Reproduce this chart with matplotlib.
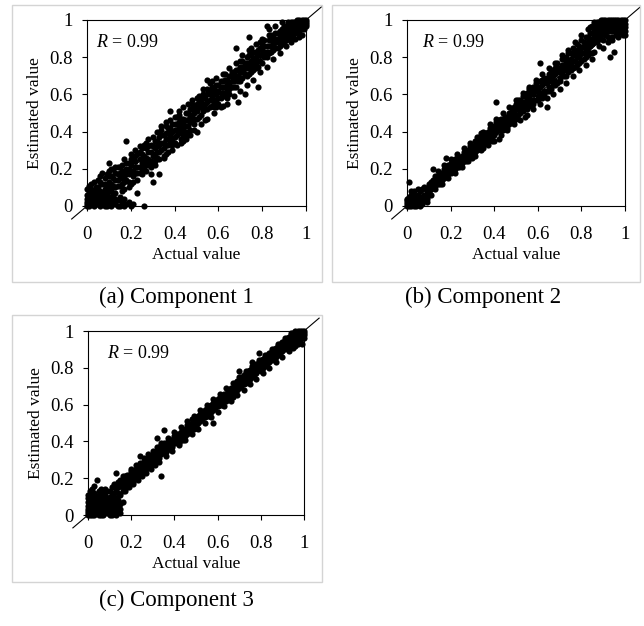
import matplotlib
matplotlib.use("Agg")
import matplotlib.pyplot as plt
from matplotlib.patches import Rectangle

plt.rcParams['font.family'] = ['Liberation Serif', 'DejaVu Serif']
plt.rcParams['mathtext.fontset'] = 'custom'
plt.rcParams['mathtext.it'] = 'Liberation Serif:italic'
plt.rcParams['mathtext.rm'] = 'Liberation Serif'

# ====== Data (actual, estimated) ======

comp1_points = [
    (0.00, 0.00), (0.01, 0.02), (0.02, 0.01), (0.00, 0.04), (0.01, 0.06), (0.02, 0.07), (0.03, 0.05), (0.04, 0.03),
    (0.05, 0.01), (0.03, 0.00), (0.06, 0.04), (0.07, 0.02), (0.05, 0.06), (0.08, 0.05), (0.01, 0.08), (0.02, 0.04),
    (0.04, 0.07), (0.06, 0.00), (0.08, 0.01), (0.09, 0.03), (0.00, 0.06), (0.01, 0.03), (0.03, 0.02), (0.02, 0.09),
    (0.04, 0.05), (0.07, 0.07), (0.10, 0.02), (0.11, 0.00), (0.12, 0.04), (0.13, 0.01), (0.15, 0.00), (0.16, 0.02),
    (0.18, 0.01), (0.20, 0.00), (0.21, 0.01), (0.02, 0.12), (0.00, 0.02), (0.05, 0.03), (0.09, 0.00), (0.14, 0.03),
    (0.05, 0.10), (0.06, 0.08), (0.07, 0.12), (0.08, 0.09), (0.08, 0.15), (0.09, 0.07), (0.10, 0.13), (0.10, 0.19),
    (0.11, 0.09), (0.11, 0.16), (0.12, 0.11), (0.12, 0.20), (0.13, 0.14), (0.13, 0.07), (0.14, 0.17), (0.14, 0.11),
    (0.15, 0.15), (0.15, 0.21), (0.16, 0.12), (0.16, 0.19), (0.17, 0.16), (0.17, 0.09), (0.18, 0.20), (0.18, 0.35),
    (0.18, 0.14), (0.19, 0.23), (0.19, 0.17), (0.20, 0.19), (0.20, 0.12), (0.21, 0.24), (0.21, 0.16), (0.22, 0.21),
    (0.22, 0.27), (0.23, 0.18), (0.23, 0.07), (0.24, 0.25), (0.24, 0.21), (0.25, 0.28), (0.25, 0.20), (0.26, 0.00),
    (0.26, 0.24), (0.27, 0.31), (0.27, 0.26), (0.28, 0.22), (0.28, 0.29), (0.29, 0.17), (0.29, 0.33), (0.30, 0.27),
    (0.30, 0.13), (0.09, 0.04), (0.06, 0.13), (0.07, 0.18), (0.10, 0.23),
    (0.31, 0.31), (0.31, 0.24), (0.32, 0.35), (0.32, 0.29), (0.33, 0.17), (0.33, 0.33), (0.34, 0.38), (0.34, 0.30),
    (0.35, 0.34), (0.35, 0.27), (0.36, 0.39), (0.36, 0.33), (0.37, 0.42), (0.37, 0.36), (0.38, 0.35), (0.38, 0.51),
    (0.39, 0.40), (0.39, 0.33), (0.40, 0.44), (0.40, 0.37), (0.41, 0.41), (0.41, 0.48), (0.42, 0.39), (0.42, 0.45),
    (0.43, 0.36), (0.43, 0.43), (0.44, 0.47), (0.44, 0.41), (0.45, 0.50), (0.45, 0.43), (0.46, 0.46), (0.46, 0.38),
    (0.47, 0.52), (0.47, 0.45), (0.48, 0.49), (0.48, 0.55), (0.49, 0.47), (0.49, 0.53), (0.50, 0.40), (0.50, 0.51),
    (0.51, 0.56), (0.51, 0.48), (0.52, 0.53), (0.52, 0.58), (0.53, 0.51), (0.54, 0.55), (0.54, 0.46), (0.55, 0.60),
    (0.55, 0.52), (0.55, 0.68), (0.56, 0.57), (0.56, 0.62), (0.57, 0.54), (0.57, 0.59), (0.58, 0.63), (0.58, 0.56),
    (0.59, 0.60), (0.59, 0.53), (0.60, 0.65), (0.60, 0.58), (0.61, 0.61), (0.61, 0.67), (0.62, 0.59), (0.62, 0.64),
    (0.63, 0.68), (0.63, 0.61), (0.64, 0.65), (0.64, 0.58), (0.65, 0.70), (0.65, 0.63), (0.66, 0.67), (0.66, 0.72),
    (0.67, 0.64), (0.67, 0.69), (0.68, 0.73), (0.68, 0.85), (0.69, 0.56), (0.69, 0.70), (0.70, 0.75), (0.70, 0.67),
    (0.71, 0.72), (0.71, 0.78), (0.72, 0.60), (0.72, 0.74), (0.73, 0.77), (0.73, 0.70), (0.74, 0.81), (0.74, 0.91),
    (0.74, 0.74), (0.75, 0.78), (0.75, 0.72), (0.76, 0.83), (0.76, 0.76), (0.77, 0.80), (0.77, 0.74), (0.78, 0.64),
    (0.78, 0.84), (0.78, 0.78), (0.79, 0.81), (0.79, 0.88), (0.80, 0.77), (0.80, 0.84), (0.81, 0.86), (0.81, 0.80),
    (0.82, 0.97), (0.82, 0.83), (0.83, 0.89), (0.83, 0.82), (0.84, 0.86), (0.84, 0.92), (0.85, 0.84), (0.85, 0.88),
    (0.86, 0.90), (0.86, 0.85), (0.87, 0.93), (0.87, 0.88), (0.88, 0.91), (0.88, 0.86), (0.89, 0.95), (0.89, 0.90),
    (0.90, 0.93), (0.90, 0.88), (0.91, 0.97), (0.91, 0.92), (0.92, 0.95), (0.92, 0.90), (0.93, 0.99), (0.93, 0.94),
    (0.94, 0.97), (0.94, 0.92), (0.95, 0.99), (0.95, 0.95), (0.96, 0.98), (0.96, 0.94), (0.97, 1.00), (0.97, 0.96),
    (0.98, 0.98), (0.98, 0.95), (0.99, 0.99), (0.99, 0.97), (1.00, 0.98), (1.00, 1.00), (0.97, 0.91), (0.90, 0.97),
    (0.92, 0.99), (0.97, 0.93), (0.99, 1.00),
]

comp1_extra = [
    (0.00, 0.01), (0.01, 0.00), (0.02, 0.05), (0.03, 0.08), (0.04, 0.10), (0.05, 0.08), (0.06, 0.06), (0.07, 0.04),
    (0.08, 0.03), (0.09, 0.06), (0.10, 0.05), (0.11, 0.03), (0.12, 0.02), (0.13, 0.04), (0.14, 0.00), (0.17, 0.00),
    (0.19, 0.02), (0.00, 0.09), (0.01, 0.11), (0.03, 0.13), (0.04, 0.01), (0.06, 0.02), (0.10, 0.08), (0.12, 0.07),
    (0.15, 0.05), (0.17, 0.04),
    (0.06, 0.16), (0.08, 0.12), (0.09, 0.17), (0.09, 0.11), (0.10, 0.16), (0.11, 0.20), (0.11, 0.12), (0.12, 0.15),
    (0.13, 0.18), (0.13, 0.10), (0.14, 0.21), (0.14, 0.14), (0.15, 0.18), (0.15, 0.11), (0.16, 0.22), (0.16, 0.15),
    (0.17, 0.19), (0.17, 0.13), (0.18, 0.23), (0.18, 0.17), (0.19, 0.20), (0.19, 0.13), (0.20, 0.25), (0.20, 0.22),
    (0.21, 0.19), (0.21, 0.27), (0.22, 0.18), (0.22, 0.24), (0.23, 0.28), (0.23, 0.21), (0.24, 0.18), (0.24, 0.29),
    (0.25, 0.23), (0.25, 0.31), (0.26, 0.27), (0.26, 0.21), (0.27, 0.23), (0.27, 0.34), (0.28, 0.25), (0.28, 0.32),
    (0.29, 0.29), (0.29, 0.24), (0.30, 0.32), (0.30, 0.23),
    (0.31, 0.35), (0.31, 0.28), (0.32, 0.32), (0.32, 0.26), (0.33, 0.37), (0.33, 0.29), (0.34, 0.34), (0.34, 0.41),
    (0.35, 0.31), (0.35, 0.38), (0.36, 0.36), (0.36, 0.43), (0.37, 0.33), (0.37, 0.39), (0.38, 0.42), (0.38, 0.38),
    (0.39, 0.36), (0.39, 0.44), (0.40, 0.41), (0.40, 0.34), (0.41, 0.38), (0.41, 0.44), (0.42, 0.42), (0.42, 0.49),
    (0.43, 0.40), (0.43, 0.47), (0.44, 0.44), (0.44, 0.38), (0.45, 0.46), (0.45, 0.40), (0.46, 0.50), (0.46, 0.43),
    (0.47, 0.48), (0.47, 0.41), (0.48, 0.45), (0.48, 0.52), (0.49, 0.50), (0.49, 0.44), (0.50, 0.55), (0.50, 0.47),
    (0.51, 0.53), (0.51, 0.59), (0.52, 0.49), (0.52, 0.56), (0.53, 0.55), (0.53, 0.60), (0.54, 0.52), (0.54, 0.58),
    (0.55, 0.56), (0.55, 0.63), (0.56, 0.53), (0.56, 0.60), (0.57, 0.57), (0.57, 0.64), (0.58, 0.60), (0.58, 0.53),
    (0.59, 0.57), (0.59, 0.65), (0.60, 0.62), (0.60, 0.55), (0.61, 0.64), (0.61, 0.58), (0.62, 0.67), (0.62, 0.61),
    (0.63, 0.64), (0.63, 0.71), (0.64, 0.62), (0.64, 0.68), (0.65, 0.66), (0.65, 0.60), (0.66, 0.70), (0.66, 0.64),
    (0.67, 0.72), (0.67, 0.67), (0.68, 0.70), (0.68, 0.64), (0.69, 0.73), (0.69, 0.67), (0.70, 0.72), (0.70, 0.78),
    (0.71, 0.75), (0.71, 0.69), (0.72, 0.77), (0.72, 0.71), (0.73, 0.80), (0.73, 0.74), (0.74, 0.77), (0.74, 0.71),
    (0.75, 0.81), (0.75, 0.75), (0.76, 0.79), (0.76, 0.73), (0.77, 0.83), (0.77, 0.77), (0.78, 0.81), (0.78, 0.75),
    (0.79, 0.85), (0.79, 0.78), (0.80, 0.81), (0.80, 0.87), (0.81, 0.83), (0.81, 0.89), (0.82, 0.86), (0.82, 0.80),
    (0.83, 0.86), (0.83, 0.92), (0.84, 0.89), (0.84, 0.83), (0.85, 0.91), (0.85, 0.86),
    (0.86, 0.88), (0.86, 0.93), (0.87, 0.90), (0.87, 0.85), (0.88, 0.94), (0.88, 0.89), (0.89, 0.92), (0.89, 0.87),
    (0.90, 0.95), (0.90, 0.91), (0.91, 0.94), (0.91, 0.89), (0.92, 0.97), (0.92, 0.93), (0.93, 0.96), (0.93, 0.91),
    (0.94, 0.99), (0.94, 0.95), (0.95, 0.97), (0.95, 0.93), (0.96, 1.00), (0.96, 0.96), (0.97, 0.98), (0.98, 1.00),
    (0.98, 0.97), (0.99, 0.98), (0.99, 0.95), (1.00, 0.99), (1.00, 0.97), (0.96, 0.99),
]

comp1_spread = [
    (0.05, 0.14), (0.08, 0.00), (0.10, 0.01), (0.12, 0.06), (0.13, 0.21), (0.16, 0.08), (0.17, 0.25), (0.19, 0.10),
    (0.20, 0.28), (0.21, 0.13), (0.22, 0.30), (0.23, 0.14), (0.24, 0.32), (0.25, 0.17), (0.26, 0.33), (0.27, 0.19),
    (0.28, 0.36), (0.29, 0.21), (0.30, 0.37), (0.31, 0.22), (0.32, 0.40), (0.33, 0.25), (0.34, 0.43), (0.35, 0.26),
    (0.36, 0.45), (0.37, 0.29), (0.38, 0.46), (0.39, 0.30), (0.40, 0.48), (0.41, 0.33), (0.42, 0.51), (0.43, 0.34),
    (0.44, 0.53), (0.45, 0.36), (0.46, 0.55), (0.47, 0.38), (0.48, 0.57), (0.49, 0.41), (0.50, 0.58), (0.52, 0.44),
    (0.53, 0.63), (0.55, 0.47), (0.56, 0.66), (0.58, 0.50), (0.59, 0.69), (0.61, 0.53), (0.62, 0.71), (0.64, 0.55),
    (0.65, 0.74), (0.67, 0.59), (0.68, 0.77), (0.70, 0.62), (0.71, 0.81), (0.73, 0.65), (0.74, 0.84), (0.76, 0.68),
    (0.77, 0.87), (0.79, 0.72), (0.80, 0.90), (0.82, 0.75), (0.83, 0.95), (0.85, 0.79), (0.86, 0.97), (0.88, 0.82),
    (0.89, 0.99), (0.91, 0.86), (0.93, 0.88), (0.95, 0.90), (0.98, 0.92), (0.57, 0.67), (0.44, 0.35), (0.36, 0.28),
    (0.62, 0.54), (0.75, 0.85),
]

comp2_points = [
    (0.00, 0.00), (0.01, 0.01), (0.02, 0.00), (0.01, 0.03), (0.02, 0.02), (0.03, 0.01), (0.03, 0.03), (0.04, 0.02),
    (0.04, 0.00), (0.05, 0.03), (0.05, 0.01), (0.06, 0.04), (0.06, 0.02), (0.07, 0.03), (0.07, 0.05), (0.08, 0.04),
    (0.08, 0.06), (0.00, 0.02), (0.01, 0.05), (0.02, 0.04), (0.03, 0.06), (0.04, 0.05), (0.05, 0.06), (0.06, 0.00),
    (0.07, 0.01), (0.09, 0.05), (0.01, 0.13), (0.03, 0.08), (0.00, 0.04), (0.05, 0.09), (0.10, 0.07), (0.09, 0.08),
    (0.10, 0.10), (0.10, 0.12), (0.11, 0.09), (0.11, 0.13), (0.12, 0.11), (0.12, 0.14), (0.12, 0.20), (0.13, 0.12),
    (0.13, 0.16), (0.14, 0.13), (0.14, 0.15), (0.15, 0.14), (0.15, 0.18), (0.16, 0.15), (0.16, 0.17), (0.17, 0.16),
    (0.17, 0.20), (0.18, 0.17), (0.18, 0.26), (0.19, 0.18), (0.19, 0.21), (0.20, 0.19), (0.20, 0.23), (0.21, 0.20),
    (0.21, 0.22), (0.22, 0.21), (0.22, 0.25), (0.23, 0.22), (0.23, 0.26), (0.24, 0.23), (0.24, 0.21), (0.25, 0.27),
    (0.25, 0.24), (0.26, 0.25), (0.26, 0.29), (0.27, 0.26), (0.27, 0.24), (0.28, 0.30), (0.28, 0.27), (0.29, 0.28),
    (0.29, 0.32), (0.30, 0.29), (0.30, 0.26), (0.15, 0.12), (0.08, 0.10),
    (0.31, 0.33), (0.31, 0.29), (0.32, 0.31), (0.32, 0.35), (0.33, 0.32), (0.33, 0.37), (0.34, 0.33), (0.34, 0.39),
    (0.35, 0.34), (0.35, 0.31), (0.36, 0.37), (0.36, 0.35), (0.37, 0.36), (0.37, 0.40), (0.38, 0.37), (0.38, 0.42),
    (0.39, 0.38), (0.39, 0.35), (0.40, 0.41), (0.40, 0.39), (0.41, 0.56), (0.41, 0.43), (0.42, 0.36), (0.42, 0.44),
    (0.43, 0.41), (0.43, 0.47), (0.44, 0.43), (0.44, 0.45), (0.45, 0.44), (0.45, 0.48), (0.46, 0.45), (0.46, 0.42),
    (0.47, 0.49), (0.47, 0.46), (0.48, 0.47), (0.48, 0.51), (0.49, 0.48), (0.49, 0.53), (0.50, 0.49), (0.50, 0.55),
    (0.51, 0.52), (0.51, 0.57), (0.52, 0.50), (0.52, 0.55), (0.53, 0.59), (0.53, 0.53), (0.54, 0.48), (0.54, 0.56),
    (0.55, 0.61), (0.55, 0.54), (0.56, 0.58), (0.56, 0.63), (0.57, 0.56), (0.57, 0.60), (0.58, 0.64), (0.58, 0.57),
    (0.59, 0.62), (0.59, 0.66), (0.60, 0.59), (0.60, 0.64), (0.61, 0.77), (0.61, 0.67), (0.62, 0.61), (0.62, 0.65),
    (0.63, 0.69), (0.63, 0.62), (0.64, 0.53), (0.64, 0.66), (0.65, 0.71), (0.65, 0.64), (0.66, 0.68), (0.66, 0.73),
    (0.67, 0.65), (0.67, 0.70), (0.68, 0.74), (0.68, 0.67), (0.69, 0.72), (0.69, 0.77), (0.70, 0.69), (0.70, 0.74),
    (0.71, 0.76), (0.71, 0.71), (0.72, 0.79), (0.72, 0.73), (0.73, 0.77), (0.73, 0.70), (0.74, 0.82), (0.74, 0.75),
    (0.75, 0.79), (0.75, 0.73), (0.76, 0.85), (0.76, 0.78), (0.77, 0.81), (0.77, 0.75), (0.78, 0.87), (0.78, 0.80),
    (0.79, 0.84), (0.79, 0.77), (0.80, 0.89), (0.80, 0.82), (0.81, 0.86), (0.81, 0.79), (0.82, 0.91), (0.82, 0.84),
    (0.83, 0.88), (0.83, 0.81), (0.84, 0.93), (0.84, 0.86), (0.85, 0.90), (0.85, 0.79), (0.86, 0.83), (0.87, 0.88),
    (0.86, 0.95), (0.86, 0.91), (0.87, 0.97), (0.87, 0.93), (0.88, 0.99), (0.88, 0.95), (0.88, 0.90), (0.89, 1.00),
    (0.89, 0.96), (0.89, 0.92), (0.90, 0.98), (0.90, 0.94), (0.90, 0.89), (0.91, 1.00), (0.91, 0.96), (0.91, 0.92),
    (0.92, 0.98), (0.92, 0.94), (0.93, 1.00), (0.93, 0.96), (0.93, 0.80), (0.94, 0.98), (0.94, 0.94), (0.95, 1.00),
    (0.95, 0.96), (0.95, 0.83), (0.96, 0.98), (0.96, 0.94), (0.97, 1.00), (0.97, 0.96), (0.98, 0.98), (0.98, 0.94),
    (0.99, 1.00), (0.99, 0.96), (1.00, 0.98), (1.00, 0.94), (1.00, 1.00), (0.99, 0.92), (0.97, 0.93), (0.92, 0.91),
]

comp2_extra = [
    (0.00, 0.01), (0.01, 0.00), (0.01, 0.02), (0.02, 0.01), (0.02, 0.03), (0.03, 0.00), (0.03, 0.02), (0.04, 0.01),
    (0.04, 0.03), (0.04, 0.04), (0.05, 0.02), (0.05, 0.04), (0.06, 0.01), (0.06, 0.03), (0.06, 0.05), (0.07, 0.02),
    (0.07, 0.04), (0.08, 0.03), (0.08, 0.05), (0.09, 0.04), (0.09, 0.06), (0.02, 0.06), (0.00, 0.03), (0.03, 0.04),
    (0.10, 0.08), (0.10, 0.11), (0.11, 0.10), (0.11, 0.12), (0.12, 0.10), (0.12, 0.13), (0.13, 0.11), (0.13, 0.14),
    (0.14, 0.12), (0.14, 0.16), (0.15, 0.13), (0.15, 0.16), (0.16, 0.14), (0.16, 0.18), (0.17, 0.15), (0.17, 0.18),
    (0.18, 0.16), (0.18, 0.20), (0.19, 0.17), (0.19, 0.22), (0.20, 0.18), (0.20, 0.21), (0.21, 0.19), (0.21, 0.24),
    (0.22, 0.20), (0.22, 0.23), (0.23, 0.21), (0.23, 0.24), (0.24, 0.22), (0.24, 0.26), (0.25, 0.23), (0.25, 0.26),
    (0.26, 0.24), (0.26, 0.27), (0.27, 0.25), (0.27, 0.29), (0.28, 0.26), (0.28, 0.28), (0.29, 0.27), (0.29, 0.30),
    (0.30, 0.28), (0.30, 0.31),
    (0.31, 0.30), (0.31, 0.35), (0.32, 0.30), (0.32, 0.33), (0.33, 0.31), (0.33, 0.35), (0.34, 0.32), (0.34, 0.36),
    (0.35, 0.33), (0.35, 0.37), (0.36, 0.34), (0.36, 0.39), (0.37, 0.35), (0.37, 0.38), (0.38, 0.36), (0.38, 0.40),
    (0.39, 0.37), (0.39, 0.41), (0.40, 0.38), (0.40, 0.43), (0.41, 0.40), (0.41, 0.45), (0.42, 0.41), (0.42, 0.46),
    (0.43, 0.42), (0.43, 0.45), (0.44, 0.41), (0.44, 0.47), (0.45, 0.42), (0.45, 0.46), (0.46, 0.44), (0.46, 0.48),
    (0.47, 0.44), (0.47, 0.50), (0.48, 0.45), (0.48, 0.49), (0.49, 0.46), (0.49, 0.51), (0.50, 0.47), (0.50, 0.52),
    (0.51, 0.49), (0.51, 0.54), (0.52, 0.53), (0.52, 0.57), (0.53, 0.51), (0.53, 0.56), (0.54, 0.53), (0.54, 0.59),
    (0.55, 0.52), (0.55, 0.57), (0.56, 0.55), (0.56, 0.60), (0.57, 0.54), (0.57, 0.62), (0.58, 0.55), (0.58, 0.60),
    (0.59, 0.57), (0.59, 0.63), (0.60, 0.57), (0.60, 0.62), (0.61, 0.59), (0.61, 0.64), (0.62, 0.58), (0.62, 0.68),
    (0.63, 0.60), (0.63, 0.66), (0.64, 0.62), (0.64, 0.69), (0.65, 0.62), (0.65, 0.68), (0.66, 0.63), (0.66, 0.70),
    (0.67, 0.67), (0.67, 0.72), (0.68, 0.65), (0.68, 0.71), (0.69, 0.66), (0.69, 0.74), (0.70, 0.67), (0.70, 0.72),
    (0.71, 0.73), (0.71, 0.79), (0.72, 0.70), (0.72, 0.76), (0.73, 0.74), (0.73, 0.80), (0.74, 0.72), (0.74, 0.78),
    (0.75, 0.76), (0.75, 0.82), (0.76, 0.74), (0.76, 0.81), (0.77, 0.78), (0.77, 0.84), (0.78, 0.76), (0.78, 0.83),
    (0.79, 0.80), (0.79, 0.86), (0.80, 0.78), (0.80, 0.85), (0.81, 0.82), (0.81, 0.88), (0.82, 0.80), (0.82, 0.87),
    (0.83, 0.85), (0.83, 0.91), (0.84, 0.82), (0.84, 0.89), (0.85, 0.87), (0.85, 0.93),
    (0.86, 0.88), (0.86, 0.97), (0.87, 0.91), (0.87, 0.99), (0.88, 0.92), (0.88, 0.97), (0.89, 0.94), (0.89, 0.98),
    (0.90, 0.96), (0.90, 1.00), (0.91, 0.94), (0.91, 0.98), (0.92, 0.96), (0.92, 1.00), (0.93, 0.94), (0.93, 0.98),
    (0.94, 0.96), (0.94, 1.00), (0.95, 0.94), (0.95, 0.98), (0.96, 0.96), (0.96, 1.00), (0.97, 0.94), (0.97, 0.98),
    (0.98, 0.96), (0.98, 1.00), (0.99, 0.94), (0.99, 0.98), (1.00, 0.96), (1.00, 0.92), (0.94, 0.91), (0.96, 0.92),
]

comp2_spread = [
    (0.02, 0.08), (0.06, 0.08), (0.07, 0.09), (0.09, 0.02), (0.11, 0.06), (0.13, 0.09), (0.14, 0.19), (0.16, 0.12),
    (0.17, 0.22), (0.19, 0.15), (0.20, 0.25), (0.22, 0.18), (0.23, 0.28), (0.25, 0.21), (0.26, 0.31), (0.28, 0.24),
    (0.29, 0.34), (0.31, 0.27), (0.32, 0.37), (0.34, 0.30), (0.35, 0.40), (0.37, 0.33), (0.38, 0.44), (0.40, 0.35),
    (0.41, 0.47), (0.43, 0.38), (0.44, 0.50), (0.46, 0.41), (0.47, 0.53), (0.49, 0.44), (0.50, 0.57), (0.52, 0.46),
    (0.53, 0.61), (0.55, 0.49), (0.56, 0.64), (0.58, 0.52), (0.59, 0.68), (0.61, 0.55), (0.62, 0.71), (0.64, 0.58),
    (0.65, 0.74), (0.67, 0.60), (0.68, 0.77), (0.70, 0.63), (0.71, 0.81), (0.73, 0.66), (0.74, 0.84), (0.76, 0.70),
    (0.77, 0.88), (0.79, 0.73), (0.80, 0.92), (0.82, 0.76), (0.83, 0.95), (0.85, 0.82), (0.86, 0.99), (0.88, 0.86),
    (0.90, 0.85), (0.92, 0.88), (0.94, 0.89), (0.97, 0.91), (0.85, 0.97), (0.84, 0.96),
]

comp3_points = [
    (0.00, 0.00), (0.01, 0.01), (0.02, 0.00), (0.00, 0.03), (0.01, 0.05), (0.02, 0.03), (0.03, 0.02), (0.03, 0.05),
    (0.04, 0.01), (0.04, 0.04), (0.05, 0.02), (0.05, 0.06), (0.06, 0.03), (0.06, 0.00), (0.07, 0.05), (0.07, 0.02),
    (0.08, 0.04), (0.08, 0.07), (0.09, 0.02), (0.09, 0.06), (0.10, 0.03), (0.10, 0.08), (0.11, 0.05), (0.11, 0.01),
    (0.12, 0.07), (0.12, 0.03), (0.13, 0.05), (0.14, 0.02), (0.15, 0.01), (0.00, 0.07), (0.01, 0.09), (0.02, 0.07),
    (0.03, 0.10), (0.04, 0.08), (0.05, 0.11), (0.06, 0.09), (0.07, 0.12), (0.01, 0.13), (0.03, 0.16), (0.04, 0.19),
    (0.06, 0.14), (0.08, 0.11), (0.09, 0.13), (0.02, 0.11), (0.13, 0.09), (0.00, 0.05), (0.05, 0.00), (0.10, 0.00),
    (0.10, 0.13), (0.11, 0.11), (0.11, 0.15), (0.12, 0.12), (0.12, 0.17), (0.13, 0.23), (0.13, 0.14), (0.14, 0.15),
    (0.14, 0.12), (0.15, 0.16), (0.15, 0.19), (0.16, 0.15), (0.16, 0.18), (0.17, 0.17), (0.17, 0.21), (0.18, 0.18),
    (0.18, 0.16), (0.19, 0.21), (0.19, 0.19), (0.20, 0.22), (0.20, 0.18), (0.21, 0.20), (0.21, 0.24), (0.22, 0.23),
    (0.22, 0.21), (0.23, 0.26), (0.23, 0.22), (0.24, 0.24), (0.24, 0.32), (0.25, 0.26), (0.25, 0.23), (0.26, 0.28),
    (0.26, 0.25), (0.27, 0.27), (0.27, 0.30), (0.28, 0.28), (0.28, 0.26), (0.29, 0.31), (0.29, 0.28), (0.30, 0.30),
    (0.30, 0.33),
    (0.31, 0.31), (0.31, 0.34), (0.32, 0.42), (0.32, 0.32), (0.33, 0.35), (0.33, 0.31), (0.34, 0.21), (0.34, 0.36),
    (0.35, 0.46), (0.35, 0.34), (0.36, 0.38), (0.36, 0.35), (0.37, 0.37), (0.37, 0.40), (0.38, 0.39), (0.38, 0.36),
    (0.39, 0.41), (0.39, 0.38), (0.40, 0.40), (0.40, 0.43), (0.41, 0.41), (0.41, 0.44), (0.42, 0.42), (0.42, 0.39),
    (0.43, 0.45), (0.43, 0.43), (0.44, 0.44), (0.44, 0.41), (0.45, 0.47), (0.45, 0.45), (0.46, 0.46), (0.46, 0.49),
    (0.47, 0.47), (0.47, 0.45), (0.48, 0.52), (0.48, 0.48), (0.49, 0.49), (0.49, 0.47), (0.50, 0.51), (0.50, 0.49),
    (0.51, 0.52), (0.51, 0.50), (0.52, 0.53), (0.52, 0.55), (0.53, 0.52), (0.53, 0.54), (0.54, 0.56), (0.54, 0.53),
    (0.55, 0.55), (0.55, 0.58), (0.56, 0.57), (0.56, 0.54), (0.57, 0.60), (0.57, 0.57), (0.58, 0.50), (0.58, 0.59),
    (0.59, 0.61), (0.59, 0.58), (0.60, 0.62), (0.60, 0.59), (0.61, 0.61), (0.61, 0.64), (0.62, 0.63), (0.62, 0.60),
    (0.63, 0.65), (0.63, 0.62), (0.64, 0.66), (0.64, 0.63), (0.65, 0.64), (0.65, 0.68), (0.66, 0.67), (0.66, 0.65),
    (0.67, 0.64), (0.67, 0.69), (0.68, 0.70), (0.68, 0.67), (0.69, 0.71), (0.69, 0.68), (0.70, 0.78), (0.70, 0.70),
    (0.71, 0.73), (0.71, 0.70), (0.72, 0.74), (0.72, 0.71), (0.73, 0.75), (0.73, 0.72), (0.74, 0.76), (0.74, 0.73),
    (0.75, 0.77), (0.75, 0.74), (0.76, 0.83), (0.76, 0.76), (0.77, 0.79), (0.77, 0.75), (0.78, 0.80), (0.78, 0.77),
    (0.79, 0.88), (0.79, 0.79), (0.80, 0.82), (0.80, 0.78), (0.81, 0.83), (0.81, 0.80), (0.82, 0.84), (0.82, 0.81),
    (0.83, 0.85), (0.83, 0.82), (0.84, 0.86), (0.84, 0.83), (0.85, 0.87), (0.85, 0.84),
    (0.86, 0.88), (0.86, 0.85), (0.87, 0.89), (0.87, 0.86), (0.88, 0.90), (0.88, 0.87), (0.89, 0.91), (0.89, 0.88),
    (0.90, 0.92), (0.90, 0.89), (0.91, 0.93), (0.91, 0.90), (0.92, 0.94), (0.92, 0.91), (0.93, 0.95), (0.93, 0.92),
    (0.94, 0.96), (0.94, 0.93), (0.95, 0.97), (0.95, 0.94), (0.96, 0.98), (0.96, 0.95), (0.97, 0.99), (0.97, 0.96),
    (0.98, 1.00), (0.98, 0.97), (0.99, 0.99), (0.99, 0.96), (1.00, 0.98), (0.98, 0.94), (0.96, 0.92), (1.00, 1.00),
]

comp3_extra = [
    (0.00, 0.01), (0.00, 0.02), (0.01, 0.00), (0.01, 0.03), (0.01, 0.07), (0.02, 0.01), (0.02, 0.02), (0.02, 0.05),
    (0.02, 0.09), (0.03, 0.00), (0.03, 0.03), (0.03, 0.07), (0.04, 0.02), (0.04, 0.06), (0.04, 0.10), (0.05, 0.04),
    (0.05, 0.08), (0.06, 0.01), (0.06, 0.05), (0.06, 0.07), (0.07, 0.00), (0.07, 0.03), (0.07, 0.08), (0.08, 0.02),
    (0.08, 0.06), (0.08, 0.09), (0.09, 0.01), (0.09, 0.04), (0.09, 0.09), (0.10, 0.01), (0.10, 0.05), (0.10, 0.10),
    (0.11, 0.03), (0.11, 0.07), (0.12, 0.01), (0.12, 0.05), (0.12, 0.09), (0.13, 0.02), (0.13, 0.07), (0.14, 0.04),
    (0.14, 0.08), (0.15, 0.03), (0.15, 0.06), (0.00, 0.11), (0.02, 0.14), (0.05, 0.13), (0.06, 0.12), (0.08, 0.14),
    (0.03, 0.12), (0.00, 0.09),
    (0.16, 0.13), (0.16, 0.17), (0.17, 0.15), (0.17, 0.19), (0.18, 0.15), (0.18, 0.20), (0.19, 0.17), (0.19, 0.22),
    (0.20, 0.19), (0.20, 0.24), (0.21, 0.18), (0.21, 0.22), (0.22, 0.20), (0.22, 0.25), (0.23, 0.21), (0.23, 0.24),
    (0.24, 0.22), (0.24, 0.26), (0.25, 0.24), (0.25, 0.28), (0.26, 0.24), (0.26, 0.29), (0.27, 0.25), (0.27, 0.28),
    (0.28, 0.27), (0.28, 0.31), (0.29, 0.27), (0.29, 0.30), (0.30, 0.28), (0.30, 0.32),
    (0.31, 0.30), (0.31, 0.33), (0.32, 0.30), (0.32, 0.34), (0.33, 0.33), (0.33, 0.37), (0.34, 0.33), (0.34, 0.38),
    (0.35, 0.36), (0.35, 0.39), (0.36, 0.34), (0.36, 0.37), (0.37, 0.36), (0.37, 0.39), (0.38, 0.37), (0.38, 0.41),
    (0.39, 0.37), (0.39, 0.40), (0.40, 0.39), (0.40, 0.42), (0.41, 0.39), (0.41, 0.42), (0.42, 0.41), (0.42, 0.44),
    (0.43, 0.41), (0.43, 0.44), (0.44, 0.43), (0.44, 0.46), (0.45, 0.43), (0.45, 0.46), (0.46, 0.44), (0.46, 0.47),
    (0.47, 0.46), (0.47, 0.49), (0.48, 0.47), (0.48, 0.50), (0.49, 0.48), (0.49, 0.51), (0.50, 0.48), (0.50, 0.52),
    (0.51, 0.51), (0.51, 0.54), (0.52, 0.51), (0.52, 0.54), (0.53, 0.53), (0.53, 0.56), (0.54, 0.54), (0.54, 0.57),
    (0.55, 0.54), (0.55, 0.57), (0.56, 0.56), (0.56, 0.59), (0.57, 0.56), (0.57, 0.59), (0.58, 0.57), (0.58, 0.61),
    (0.59, 0.59), (0.59, 0.62), (0.60, 0.60), (0.60, 0.63), (0.61, 0.60), (0.61, 0.63), (0.62, 0.61), (0.62, 0.64),
    (0.63, 0.63), (0.63, 0.66), (0.64, 0.62), (0.64, 0.65), (0.65, 0.65), (0.65, 0.67), (0.66, 0.64), (0.66, 0.69),
    (0.67, 0.66), (0.67, 0.68), (0.68, 0.68), (0.68, 0.72), (0.69, 0.69), (0.69, 0.73), (0.70, 0.69), (0.70, 0.73),
    (0.71, 0.71), (0.71, 0.75), (0.72, 0.72), (0.72, 0.76), (0.73, 0.73), (0.73, 0.77), (0.74, 0.74), (0.74, 0.78),
    (0.75, 0.75), (0.75, 0.79), (0.76, 0.77), (0.76, 0.80), (0.77, 0.77), (0.77, 0.81), (0.78, 0.79), (0.78, 0.82),
    (0.79, 0.80), (0.79, 0.83), (0.80, 0.80), (0.80, 0.84), (0.81, 0.82), (0.81, 0.85), (0.82, 0.82), (0.82, 0.86),
    (0.83, 0.84), (0.83, 0.87), (0.84, 0.84), (0.84, 0.88), (0.85, 0.86), (0.85, 0.89),
    (0.86, 0.87), (0.86, 0.90), (0.87, 0.88), (0.87, 0.91), (0.88, 0.89), (0.88, 0.92), (0.89, 0.90), (0.89, 0.93),
    (0.90, 0.91), (0.90, 0.94), (0.91, 0.92), (0.91, 0.95), (0.92, 0.93), (0.92, 0.96), (0.93, 0.94), (0.93, 0.97),
    (0.94, 0.95), (0.94, 0.98), (0.95, 0.96), (0.95, 0.99), (0.96, 0.97), (0.96, 1.00), (0.97, 0.97), (0.97, 1.00),
    (0.98, 0.98), (0.98, 0.95), (0.99, 0.97), (0.99, 1.00), (1.00, 0.99), (1.00, 0.96), (0.97, 0.94), (0.99, 0.93),
]

comp3_spread = [
    (0.12, 0.16), (0.14, 0.18), (0.15, 0.11), (0.16, 0.21), (0.17, 0.13), (0.18, 0.22), (0.19, 0.15), (0.20, 0.25),
    (0.21, 0.17), (0.22, 0.27), (0.23, 0.19), (0.24, 0.28), (0.25, 0.21), (0.26, 0.31), (0.27, 0.23), (0.28, 0.33),
    (0.29, 0.25), (0.30, 0.35), (0.31, 0.27), (0.32, 0.37), (0.33, 0.29), (0.34, 0.39), (0.36, 0.32), (0.37, 0.42),
    (0.39, 0.35), (0.40, 0.45), (0.42, 0.38), (0.43, 0.48), (0.45, 0.41), (0.46, 0.51), (0.48, 0.44), (0.49, 0.54),
    (0.51, 0.47), (0.52, 0.57), (0.54, 0.50), (0.55, 0.60), (0.57, 0.53), (0.58, 0.63), (0.60, 0.56), (0.61, 0.66),
    (0.63, 0.59), (0.64, 0.69), (0.66, 0.62), (0.67, 0.72), (0.69, 0.65), (0.70, 0.75), (0.72, 0.68), (0.73, 0.78),
    (0.75, 0.71), (0.76, 0.81), (0.78, 0.74), (0.79, 0.84), (0.81, 0.77), (0.82, 0.87), (0.84, 0.80), (0.85, 0.90),
    (0.87, 0.83), (0.88, 0.93), (0.90, 0.86), (0.91, 0.96), (0.93, 0.89), (0.95, 0.91), (0.97, 0.93), (0.94, 0.99),
    (0.16, 0.07), (0.14, 0.06), (0.11, 0.00), (0.13, 0.00),
]

r_values = [0.99, 0.99, 0.99]
captions = ["(a) Component 1", "(b) Component 2", "(c) Component 3"]
ticks = [0, 0.2, 0.4, 0.6, 0.8, 1]
tick_labels = ["0", "0.2", "0.4", "0.6", "0.8", "1"]

# ====== Layout (pixels of a 644x626 figure) ======

W, H = 644, 626
# plot area: left, top, right, bottom
plot_boxes = [(87, 20, 306, 206), (407, 20, 625, 206), (88, 331, 304, 515)]
# light frame round each panel
frames = [(12, 5, 322, 282), (332, 5, 640, 282), (12, 315, 322, 582)]
caption_pos = [(176, 297), (483, 297), (176, 600)]
r_pos = [(0.04, 0.88), (0.067, 0.88), (0.088, 0.88)]


def px_rect(l, t, r, b):
    return [l / W, 1 - b / H, (r - l) / W, (b - t) / H]


fig = plt.figure(figsize=(W / 100, H / 100), dpi=100)

for (l, t, r, b) in frames:
    x0, y0, w, h = px_rect(l, t, r, b)
    fig.patches.append(Rectangle((x0, y0), w, h, transform=fig.transFigure,
                                 fill=False, edgecolor='#d4d4d4', linewidth=1.0))

all_points = [comp1_points + comp1_extra + comp1_spread,
              comp2_points + comp2_extra + comp2_spread,
              comp3_points + comp3_extra + comp3_spread]
for i, pts in enumerate(all_points):
    ax = fig.add_axes(px_rect(*plot_boxes[i]))
    xs = [p[0] for p in pts]
    ys = [p[1] for p in pts]
    ax.plot([-0.07, 1.07], [-0.07, 1.07], color='black', linewidth=0.8, clip_on=False, zorder=1)
    ax.scatter(xs, ys, s=20, color='black', linewidths=0, zorder=2, clip_on=False)
    ax.set_xlim(0, 1)
    ax.set_ylim(0, 1)
    ax.set_xticks(ticks)
    ax.set_yticks(ticks)
    ax.set_xticklabels(tick_labels)
    ax.set_yticklabels(tick_labels)
    ax.tick_params(axis='both', direction='out', length=3.5, width=0.8, labelsize=13.5)
    ax.tick_params(axis='x', pad=11)
    ax.tick_params(axis='y', pad=7)
    for sp in ax.spines.values():
        sp.set_linewidth(0.8)
    ax.set_xlabel("Actual value", fontsize=12.5, labelpad=3)
    ax.set_ylabel("Estimated value", fontsize=12.5, labelpad=4)
    ax.text(r_pos[i][0], r_pos[i][1], r"$R$ = %.2f" % r_values[i], transform=ax.transAxes,
            fontsize=13, va='center', ha='left')
    cx, cy = caption_pos[i]
    fig.text(cx / W, 1 - cy / H, captions[i], fontsize=16.5, ha='center', va='center')

fig.savefig("out.png", dpi=100)
